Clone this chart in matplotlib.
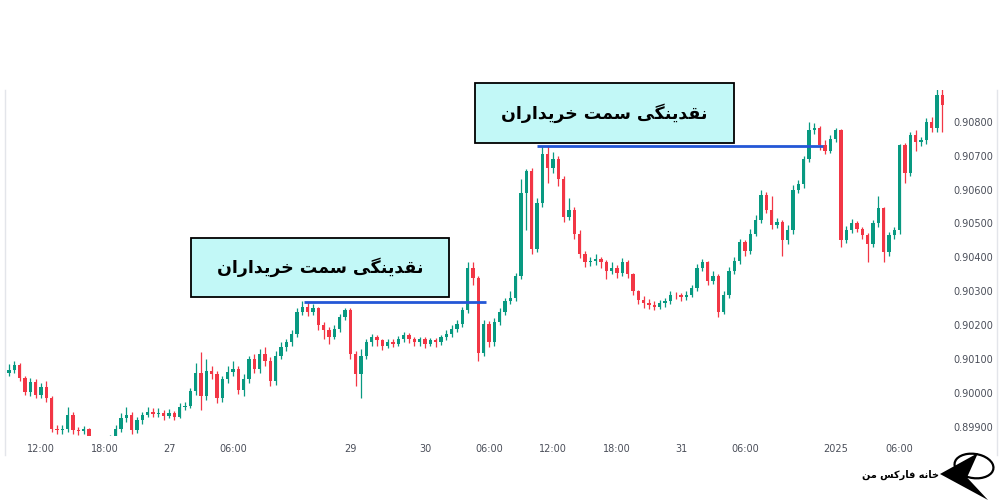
import matplotlib
matplotlib.use('Agg')
import matplotlib.pyplot as plt
from matplotlib.patches import Rectangle, Polygon, Ellipse
from matplotlib.lines import Line2D

# --- données (bougies 30 min) ---
first_open = 0.90060
closes = [
    0.90068, 0.90083, 0.90044, 0.90003, 0.90032, 0.89994, 0.90017, 0.89985, 0.89895, 0.89890,
    0.89895, 0.89935, 0.89890, 0.89888, 0.89893, 0.89865, 0.89858, 0.89852, 0.89860, 0.89866,
    0.89895, 0.89925, 0.89935, 0.89890, 0.89920, 0.89935, 0.89945, 0.89938, 0.89942, 0.89932,
    0.89940, 0.89930, 0.89960, 0.89962, 0.90005, 0.90060, 0.89990, 0.90065, 0.90055, 0.89985,
    0.90040, 0.90062, 0.90070, 0.90010, 0.90040, 0.90100, 0.90070, 0.90115, 0.90095, 0.90035,
    0.90110, 0.90135, 0.90150, 0.90175, 0.90240, 0.90255, 0.90240, 0.90250, 0.90200, 0.90185,
    0.90165, 0.90190, 0.90225, 0.90245, 0.90115, 0.90055, 0.90110, 0.90150, 0.90165, 0.90155,
    0.90140, 0.90150, 0.90145, 0.90160, 0.90170, 0.90160, 0.90150, 0.90158, 0.90145, 0.90155,
    0.90150, 0.90165, 0.90175, 0.90190, 0.90205, 0.90245, 0.90370, 0.90340, 0.90118, 0.90205,
    0.90150, 0.90210, 0.90240, 0.90270, 0.90280, 0.90345, 0.90590, 0.90655, 0.90425, 0.90560,
    0.90705, 0.90665, 0.90690, 0.90630, 0.90520, 0.90540, 0.90470, 0.90410, 0.90385, 0.90390,
    0.90395, 0.90385, 0.90360, 0.90370, 0.90355, 0.90385, 0.90350, 0.90300, 0.90275, 0.90265,
    0.90260, 0.90255, 0.90265, 0.90270, 0.90290, 0.90288, 0.90282, 0.90290, 0.90310, 0.90370,
    0.90385, 0.90330, 0.90345, 0.90240, 0.90290, 0.90360, 0.90390, 0.90445, 0.90420, 0.90470,
    0.90510, 0.90585, 0.90540, 0.90495, 0.90505, 0.90450, 0.90480, 0.90600, 0.90615, 0.90690,
    0.90775, 0.90780, 0.90730, 0.90715, 0.90750, 0.90775, 0.90450, 0.90480, 0.90500, 0.90485,
    0.90465, 0.90440, 0.90500, 0.90545, 0.90415, 0.90465, 0.90480, 0.90730, 0.90650, 0.90760,
    0.90740, 0.90745, 0.90800, 0.90780, 0.90880, 0.90850,
]
highs = [
    0.90085, 0.90095, 0.90090, 0.90050, 0.90045, 0.90040, 0.90030, 0.90035, 0.89990, 0.89905,
    0.89905, 0.89958, 0.89945, 0.89900, 0.89902, 0.89898, 0.89872, 0.89866, 0.89870, 0.89876,
    0.89905, 0.89940, 0.89958, 0.89945, 0.89930, 0.89945, 0.89960, 0.89955, 0.89955, 0.89950,
    0.89952, 0.89948, 0.89970, 0.89975, 0.90015, 0.90088, 0.90120, 0.90100, 0.90080, 0.90065,
    0.90050, 0.90080, 0.90095, 0.90080, 0.90055, 0.90110, 0.90115, 0.90130, 0.90135, 0.90105,
    0.90125, 0.90150, 0.90160, 0.90185, 0.90250, 0.90270, 0.90268, 0.90262, 0.90255, 0.90210,
    0.90195, 0.90200, 0.90232, 0.90252, 0.90250, 0.90125, 0.90130, 0.90160, 0.90175, 0.90172,
    0.90160, 0.90160, 0.90158, 0.90168, 0.90180, 0.90176, 0.90165, 0.90166, 0.90165, 0.90162,
    0.90162, 0.90172, 0.90185, 0.90200, 0.90215, 0.90255, 0.90385, 0.90385, 0.90345, 0.90215,
    0.90212, 0.90220, 0.90250, 0.90280, 0.90300, 0.90355, 0.90630, 0.90660, 0.90665, 0.90575,
    0.90728, 0.90728, 0.90710, 0.90700, 0.90640, 0.90575, 0.90550, 0.90480, 0.90420, 0.90400,
    0.90410, 0.90400, 0.90392, 0.90385, 0.90378, 0.90398, 0.90392, 0.90355, 0.90305, 0.90285,
    0.90278, 0.90272, 0.90275, 0.90280, 0.90300, 0.90298, 0.90295, 0.90300, 0.90320, 0.90380,
    0.90395, 0.90390, 0.90360, 0.90352, 0.90300, 0.90372, 0.90400, 0.90455, 0.90450, 0.90485,
    0.90525, 0.90600, 0.90592, 0.90580, 0.90515, 0.90510, 0.90495, 0.90612, 0.90628, 0.90700,
    0.90800, 0.90795, 0.90788, 0.90745, 0.90760, 0.90780, 0.90778, 0.90492, 0.90512, 0.90508,
    0.90490, 0.90472, 0.90510, 0.90580, 0.90550, 0.90475, 0.90490, 0.90735, 0.90738, 0.90770,
    0.90775, 0.90755, 0.90810, 0.90815, 0.90900, 0.90900,
]
lows = [
    0.90050, 0.90060, 0.90035, 0.89995, 0.89990, 0.89985, 0.89985, 0.89975, 0.89885, 0.89880,
    0.89880, 0.89885, 0.89878, 0.89875, 0.89878, 0.89855, 0.89848, 0.89840, 0.89845, 0.89850,
    0.89858, 0.89885, 0.89915, 0.89880, 0.89882, 0.89910, 0.89928, 0.89930, 0.89930, 0.89922,
    0.89925, 0.89922, 0.89925, 0.89950, 0.89955, 0.89995, 0.89950, 0.89980, 0.90040, 0.89970,
    0.89975, 0.90030, 0.90050, 0.89998, 0.89990, 0.90030, 0.90060, 0.90060, 0.90080, 0.90020,
    0.90025, 0.90100, 0.90125, 0.90140, 0.90165, 0.90230, 0.90228, 0.90230, 0.90185, 0.90160,
    0.90145, 0.90158, 0.90180, 0.90215, 0.90100, 0.90020, 0.89985, 0.90100, 0.90140, 0.90140,
    0.90128, 0.90132, 0.90135, 0.90138, 0.90150, 0.90148, 0.90140, 0.90140, 0.90132, 0.90138,
    0.90135, 0.90142, 0.90155, 0.90165, 0.90180, 0.90195, 0.90235, 0.90320, 0.90095, 0.90110,
    0.90135, 0.90140, 0.90200, 0.90230, 0.90262, 0.90270, 0.90335, 0.90480, 0.90410, 0.90415,
    0.90550, 0.90620, 0.90650, 0.90610, 0.90505, 0.90510, 0.90455, 0.90398, 0.90372, 0.90375,
    0.90378, 0.90370, 0.90335, 0.90350, 0.90340, 0.90345, 0.90338, 0.90288, 0.90262, 0.90250,
    0.90248, 0.90245, 0.90248, 0.90255, 0.90262, 0.90278, 0.90272, 0.90275, 0.90282, 0.90300,
    0.90360, 0.90318, 0.90322, 0.90225, 0.90232, 0.90280, 0.90350, 0.90380, 0.90405, 0.90410,
    0.90462, 0.90500, 0.90530, 0.90485, 0.90488, 0.90405, 0.90440, 0.90470, 0.90590, 0.90605,
    0.90680, 0.90765, 0.90718, 0.90705, 0.90708, 0.90740, 0.90430, 0.90442, 0.90472, 0.90475,
    0.90455, 0.90385, 0.90430, 0.90490, 0.90385, 0.90405, 0.90455, 0.90470, 0.90620, 0.90640,
    0.90715, 0.90728, 0.90735, 0.90770, 0.90770, 0.90770,
]

time_tick_bars = [6, 18, 30, 42, 64, 78, 90, 102, 114, 126, 138, 155, 167]
time_tick_labels = ['12:00', '18:00', '27', '06:00', '29', '30', '06:00',
                    '12:00', '18:00', '31', '06:00', '2025', '06:00']
price_ticks = [0.899, 0.900, 0.901, 0.902, 0.903, 0.904, 0.905, 0.906, 0.907, 0.908]

# niveaux de liquidité (prix, barre début, barre fin)
level_prices = [0.90268, 0.90728]
level_start = [55.3, 99.0]
level_end = [89.4, 152.6]

liquidity_label = 'نقدینگی سمت خریداران'
brand_label = 'خانه فارکس من'


# matplotlib ne fait pas la mise en forme arabe : formes de présentation + ordre visuel
FORMS = {
    'ا': ('\uFE8D', '\uFE8E', None, None),
    'د': ('\uFEA9', '\uFEAA', None, None),
    'ر': ('\uFEAD', '\uFEAE', None, None),
    'خ': ('\uFEA5', '\uFEA6', '\uFEA7', '\uFEA8'),
    'س': ('\uFEB1', '\uFEB2', '\uFEB3', '\uFEB4'),
    'ف': ('\uFED1', '\uFED2', '\uFED3', '\uFED4'),
    'ق': ('\uFED5', '\uFED6', '\uFED7', '\uFED8'),
    'م': ('\uFEE1', '\uFEE2', '\uFEE3', '\uFEE4'),
    'ن': ('\uFEE5', '\uFEE6', '\uFEE7', '\uFEE8'),
    'ه': ('\uFEE9', '\uFEEA', '\uFEEB', '\uFEEC'),
    'ت': ('\uFE95', '\uFE96', '\uFE97', '\uFE98'),
    'ی': ('\uFBFC', '\uFBFD', '\uFBFE', '\uFBFF'),
    'گ': ('\uFB92', '\uFB93', '\uFB94', '\uFB95'),
    'ک': ('\uFB8E', '\uFB8F', '\uFB90', '\uFB91'),
}


def faconner(texte):
    out = []
    for i, c in enumerate(texte):
        if c not in FORMS:
            out.append(c)
            continue
        prev = texte[i - 1] if i > 0 else ''
        nxt = texte[i + 1] if i + 1 < len(texte) else ''
        joint_avant = prev in FORMS and FORMS[prev][2] is not None
        joint_apres = nxt in FORMS and FORMS[c][2] is not None
        iso, fin, ini, med = FORMS[c]
        if joint_avant and joint_apres:
            out.append(med)
        elif joint_avant:
            out.append(fin)
        elif joint_apres:
            out.append(ini)
        else:
            out.append(iso)
    return ''.join(out)[::-1]


opens = [first_open] + closes[:-1]
n = len(closes)
xs = list(range(n))
up_col, down_col = '#089981', '#f23645'
cols = [up_col if c >= o else down_col for o, c in zip(opens, closes)]
bottoms = [min(o, c) for o, c in zip(opens, closes)]
heights = [max(abs(c - o), 0.000015) for o, c in zip(opens, closes)]

fig = plt.figure(figsize=(10, 5), dpi=100)
ax = fig.add_axes([0.007, 0.128, 0.938, 0.692])

ax.vlines(xs, lows, highs, colors=cols, linewidth=0.9, zorder=2)
ax.bar(xs, heights, bottom=bottoms, width=0.6, color=cols, linewidth=0, zorder=3)

ax.set_xlim(-0.375, 175.5)
ax.set_ylim(0.898734, 0.908935)

for s in ax.spines.values():
    s.set_visible(False)

ax.yaxis.tick_right()
ax.set_yticks(price_ticks)
ax.set_yticklabels(['%.5f' % p for p in price_ticks])
ax.set_xticks(time_tick_bars)
ax.set_xticklabels(time_tick_labels)
ax.tick_params(axis='both', length=0, labelsize=7, colors='#4a4e59')
ax.tick_params(axis='y', pad=6)
ax.tick_params(axis='x', pad=6)

# lignes de liquidité
ax.hlines(level_prices, level_start, level_end, color='#2457d6', linewidth=2, zorder=4)

# boîtes d'annotation
boxes = [(34.1, 0.90283, 48.4, 0.00174), (87.4, 0.90737, 48.5, 0.00177)]
for bx, by, bw, bh in boxes:
    ax.add_patch(Rectangle((bx, by), bw, bh, facecolor='#c2f8f7', edgecolor='black',
                           linewidth=1.3, clip_on=False, zorder=5))
    ax.text(bx + bw / 2, by + bh / 2, faconner(liquidity_label), ha='center', va='center',
            fontsize=12.5, fontweight='bold', family='DejaVu Sans', color='black',
            clip_on=False, zorder=6)

# bords de la capture
fig.add_artist(Line2D([0.005, 0.005], [0.09, 0.82], color='#e3e5ea', linewidth=1))
fig.add_artist(Line2D([0.997, 0.997], [0.09, 0.82], color='#e3e5ea', linewidth=1))

# logo
fig.add_artist(Polygon([[0.940, 0.052], [0.978, 0.094], [0.967, 0.045], [0.988, 0.0]],
                       closed=True, facecolor='black', edgecolor='none'))
fig.add_artist(Ellipse((0.974, 0.068), 0.038, 0.05, angle=15, facecolor='none',
                       edgecolor='black', linewidth=1.6))
fig.text(0.939, 0.05, faconner(brand_label), ha='right', va='center', fontsize=7,
         fontweight='bold', family='DejaVu Sans', color='black')

fig.savefig('out.png', dpi=100)
